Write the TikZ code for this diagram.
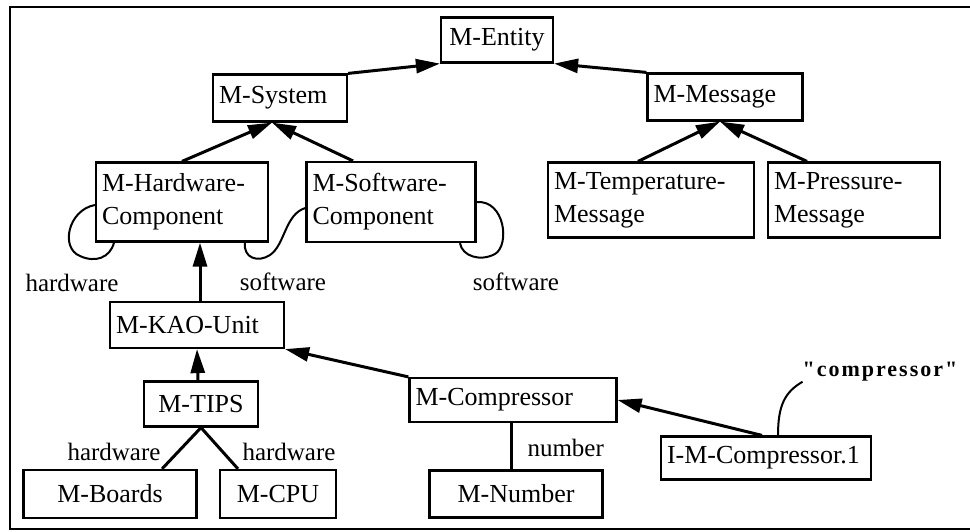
\documentclass[tikz,border=0pt]{standalone}
\usepackage{fontspec}
\setmainfont{Liberation Serif}
\usetikzlibrary{arrows.meta}

\begin{document}
\begin{tikzpicture}[x=1pt, y=-1pt]

\tikzset{box/.style = {draw, line width=2.2pt, inner xsep=6pt, inner ysep=2pt, minimum height=46pt, font=\fontsize{26}{33}\selectfont}}
\tikzset{lbox/.style = {box, align=left, text width=#1}}
\tikzset{edge/.style = {->, line width=3pt, > = {Triangle[length=24pt, width=14pt]}}}
\tikzset{link/.style = {line width=3pt}}
\tikzset{rel/.style = {line width=2pt}}
\tikzset{tag/.style = {inner sep=0pt, font=\fontsize{25}{28}\selectfont}}

\useasboundingbox (0,0) rectangle (970,531);
%frame
\draw[line width=1.6pt] (970,7) -- (10,7) -- (10,529) -- (970,529);

%classes
\node[box, minimum width=112pt, minimum height=45pt] (ent) at (497,40) {M-Entity};
\node[lbox=122pt, minimum height=47pt] (sys) at (280,98) {M-System};
\node[lbox=143pt, minimum height=47pt] (msg) at (725,97) {M-Message};
\node[lbox=160pt, minimum height=79pt] (hw) at (182,202) {M-Hardware-\\Component};
\node[lbox=157pt, minimum height=80pt] (sw) at (391,202) {M-Software-\\Component};
\node[lbox=194pt, minimum height=75pt] (tmp) at (651,200) {M-Temperature-\\Message};
\node[lbox=160pt, minimum height=75pt] (prs) at (854,200) {M-Pressure-\\Message};
\node[lbox=162pt] (kao) at (197,325) {M-KAO-Unit};
\node[box, minimum width=114pt, minimum height=45pt] (tips) at (201,404) {M-TIPS};
\node[lbox=195pt, minimum height=44pt] (cmp) at (513,400) {M-Compressor};
\node[lbox=198pt, minimum height=43pt] (imc) at (766,458) {I-M-Compressor.1};
\node[box, minimum width=173pt, minimum height=48pt] (brd) at (110,494) {M-Boards};
\node[box, minimum width=116pt, minimum height=48pt] (cpu) at (278,494) {M-CPU};
\node[box, minimum width=173pt, minimum height=47pt] (num) at (516,494) {M-Number};

%is-a
\draw[edge] (sys.north east) -- (ent.south west);
\draw[edge] (msg.north west) -- (ent.south east);
\draw[edge] (hw.north) -- ([xshift=-8pt]sys.south);
\draw[edge] ([xshift=-38pt]sw.north) -- ([xshift=-8pt]sys.south);
\draw[edge] ([xshift=-13pt]tmp.north) -- ([xshift=-5pt]msg.south);
\draw[edge] ([xshift=-47pt]prs.north) -- ([xshift=-5pt]msg.south);
\draw[edge] ([xshift=3pt]kao.north) -- ([xshift=18pt]hw.south);
\draw[edge] ([xshift=-3pt]tips.north) -- (kao.south);
\draw[edge] (cmp.north west) -- (kao.south east);
\draw[edge] ([xshift=-4pt]imc.north) -- (cmp.east);

%slots
\draw[link] (tips.south) -- ([xshift=52pt]brd.north) node[tag, at end, anchor=south east, yshift=7pt] (hwb) {hardware};
\draw[link] (tips.south) -- ([xshift=-40pt]cpu.north) node[tag, at end, anchor=south west, xshift=3pt, yshift=7pt] (hwc) {hardware};
\draw[link] ([xshift=-2pt]cmp.south) -- ([xshift=-2pt]cmp.south |- num.north) node[tag, at end, anchor=south west, xshift=15pt, yshift=11pt] (nlab) {number};

\draw[rel] ([yshift=-3pt]hw.west) .. controls (68,210) and (60,248) .. (80,256) .. controls (95,263) and (110,258) .. ([xshift=-68pt]hw.south);
\node[tag] (hwlab) at (72,283) {hardware};
\draw[rel] ([xshift=63pt]hw.south) .. controls (243,258) and (258,263) .. (270,255) .. controls (285,245) and (285,214) .. ([yshift=-6pt]sw.west);
\node[tag] (swlab) at (283,282) {software};
\draw[rel] (sw.east) .. controls (505,200) and (510,245) .. (495,254) .. controls (480,262) and (462,256) .. ([xshift=69pt]sw.south);
\node[tag] (swlab2) at (516,282) {software};

\node[inner sep=0pt, font=\bfseries\fontsize{22}{26}\selectfont\addfontfeature{Ligatures=TeXOff, LetterSpace=9}] (cmplab) at (880,372) {"compressor"};
\draw[rel] ([xshift=12pt]imc.north) .. controls (778,405) and (785,392) .. (cmplab.south west);

\end{tikzpicture}
\end{document}
